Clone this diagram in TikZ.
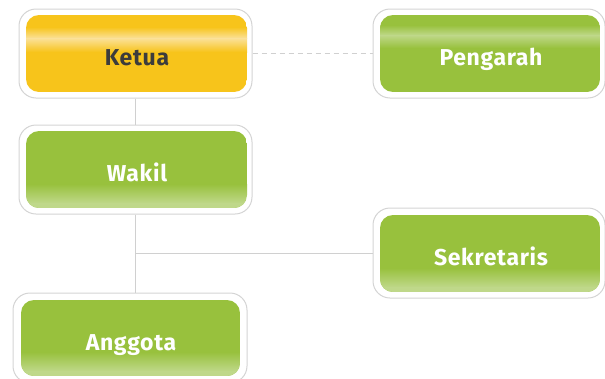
\documentclass[tikz,border=0pt]{standalone}
\usepackage{fontspec}
\setmainfont{Fira Sans}[LetterSpace=3]
\definecolor{kyellow}{HTML}{F7C41B}
\definecolor{kylight}{HTML}{FBE19A}
\definecolor{kgreen}{HTML}{98C13D}
\definecolor{kglight}{HTML}{BFD88A}
\definecolor{kborder}{HTML}{D4D4D4}
\definecolor{kline}{HTML}{D0D0D0}
\definecolor{kdark}{HTML}{3C3C3C}
\tikzset{
  outerbox/.style={draw=kborder, line width=1pt, fill=white, rounded corners=17pt, inner sep=0pt},
  lbl/.style={font=\fontsize{23}{26}\selectfont\bfseries, anchor=base, inner sep=0pt},
  conn/.style={draw=kline, line width=0.8pt},
}
\begin{document}
\begin{tikzpicture}[x=1pt,y=-1pt]
\useasboundingbox (0,0) rectangle (605,378);
\clip (0,0) rectangle (605,378);
% outer boxes
\node[outerbox, minimum width=233pt, minimum height=89pt] (ketua) at (135.5,53.5) {};
\node[outerbox, minimum width=232pt, minimum height=89pt] (pengarah) at (489,53.5) {};
\node[outerbox, minimum width=233pt, minimum height=89pt] (wakil) at (135.5,169.5) {};
\node[outerbox, minimum width=232pt, minimum height=90pt] (sekretaris) at (489,253) {};
\node[outerbox, minimum width=234pt, minimum height=90pt] (anggota) at (130,338) {};
% connectors
\draw[conn] (ketua.south) -- (wakil.north);
\draw[conn] (wakil.south) -- (wakil.south |- anggota.north);
\coordinate (branch) at (wakil.south |- sekretaris.west);
\draw[conn] (branch) -- (sekretaris.west);
\draw[conn, dash pattern=on 5pt off 4pt] (ketua.east) -- (pengarah.west);
% Ketua inner
\begin{scope}
\clip[rounded corners=13pt] (26,15) rectangle (247,92);
\fill[kyellow] (26,15) rectangle (247,92);
\shade[top color=kyellow, bottom color=kylight] (26,27) rectangle (247,38.5);
\shade[top color=kylight, bottom color=kyellow] (26,38) rectangle (247,52);
\end{scope}
% Pengarah inner
\begin{scope}
\clip[rounded corners=13pt] (380,15) rectangle (600,92);
\fill[kgreen] (380,15) rectangle (600,92);
\shade[top color=kgreen, bottom color=kglight] (380,25) rectangle (600,35.5);
\shade[top color=kglight, bottom color=kgreen] (380,35) rectangle (600,48);
\end{scope}
% Wakil inner
\begin{scope}
\clip[rounded corners=13pt] (26,131) rectangle (247,208);
\fill[kgreen] (26,131) rectangle (247,208);
\shade[top color=kgreen, bottom color=kglight] (26,184) rectangle (247,203.5);
\fill[kglight] (26,203) rectangle (247,208);
\end{scope}
% Sekretaris inner
\begin{scope}
\clip[rounded corners=13pt] (380,215) rectangle (600,292);
\fill[kgreen] (380,215) rectangle (600,292);
\shade[top color=kgreen, bottom color=kglight] (380,268) rectangle (600,287.5);
\fill[kglight] (380,287) rectangle (600,292);
\end{scope}
% Anggota inner
\begin{scope}
\clip[rounded corners=13pt] (21,300) rectangle (240,376);
\fill[kgreen] (21,300) rectangle (240,376);
\shade[top color=kgreen, bottom color=kglight] (21,352) rectangle (240,371.5);
\fill[kglight] (21,371) rectangle (240,376);
\end{scope}
% labels
\node[lbl, text=kdark] (tketua) at (137,65) {Ketua};
\node[lbl, text=white] (tpengarah) at (491,65) {Pengarah};
\node[lbl, text=white] (twakil) at (137,181) {Wakil};
\node[lbl, text=white] (tsekretaris) at (491,265) {Sekretaris};
\node[lbl, text=white] (tanggota) at (131,350) {Anggota};
\end{tikzpicture}
\end{document}
